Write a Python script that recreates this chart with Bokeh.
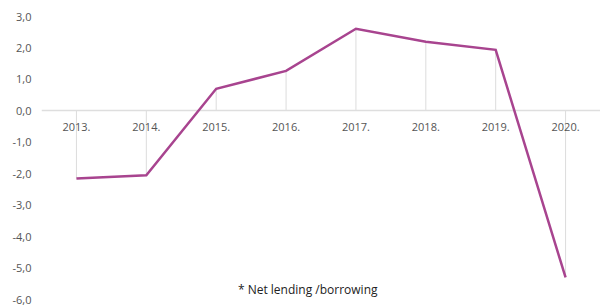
from bokeh.plotting import figure
from bokeh.models import Range1d, FixedTicker, Label, ColumnDataSource
from bokeh.embed import file_html
from bokeh.resources import INLINE

years = ["2013.", "2014.", "2015.", "2016.", "2017.", "2018.", "2019.", "2020."]
values = [-2.15, -2.05, 0.70, 1.27, 2.61, 2.20, 1.94, -5.30]
y_ticks = [3, 2, 1, 0, -1, -2, -3, -4, -5, -6]
y_tick_labels = ["3,0", "2,0", "1,0", "0,0", "-1,0", "-2,0", "-3,0", "-4,0", "-5,0", "-6,0"]
caption = "* Net lending /borrowing"

idx = list(range(len(years)))
src = ColumnDataSource(dict(x=idx, y=values, zero=[0] * len(idx)))

p = figure(width=600, height=307, output_backend="svg", toolbar_location=None,
           x_range=Range1d(-0.5, 7.5), y_range=Range1d(-6, 3),
           min_border_left=41, min_border_right=0, min_border_top=16, min_border_bottom=8)
p.outline_line_color = None
p.background_fill_color = "white"
p.border_fill_color = "white"
p.xgrid.grid_line_color = None
p.ygrid.grid_line_color = None

# drop lines
p.segment(x0="x", y0="zero", x1="x", y1="y", source=src, line_color="#dcdcdc", line_width=1)

# main line
ln = p.line(x="x", y="y", source=src, line_color="#a8448f", line_width=2.5, line_join="miter")
ln.level = "annotation"

# x axis placed at zero
xa = p.xaxis[0]
xa.fixed_location = 0
xa.ticker = FixedTicker(ticks=idx)
xa.major_label_overrides = {i: y for i, y in enumerate(years)}
xa.axis_line_color = "#dedede"
xa.axis_line_width = 1.5
xa.major_tick_line_color = None
xa.minor_tick_line_color = None
xa.major_label_text_font = "Open Sans"
xa.major_label_text_font_size = "11px"
xa.major_label_text_color = "#555555"
xa.major_label_standoff = 6

ya = p.yaxis[0]
ya.ticker = FixedTicker(ticks=y_ticks)
ya.major_label_overrides = {t: l for t, l in zip(y_ticks, y_tick_labels)}
ya.axis_line_color = None
ya.major_tick_line_color = None
ya.minor_tick_line_color = None
ya.major_label_text_font = "Open Sans"
ya.major_label_text_font_size = "11px"
ya.major_label_text_color = "#555555"
ya.major_label_standoff = 4

lab = Label(x=3.31, y=-5.67, text=caption, text_font="Open Sans", text_font_size="12px",
            text_color="#222222", text_align="center", text_baseline="middle")
p.add_layout(lab)

open("out.html", "w").write(file_html(p, INLINE))
